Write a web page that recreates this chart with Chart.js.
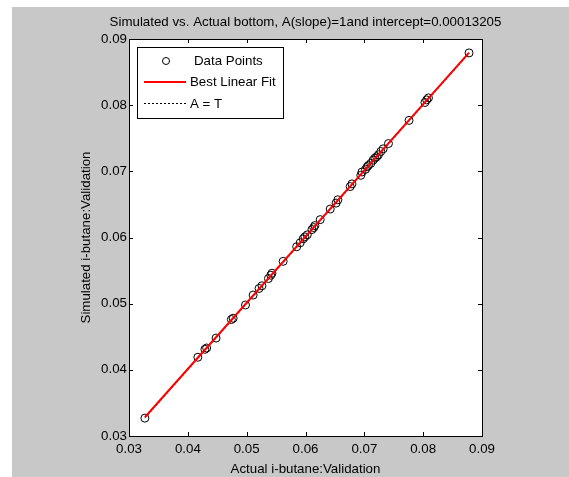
<!DOCTYPE html>
<html>
<head>
<meta charset="utf-8">
<script src="https://cdn.jsdelivr.net/npm/chart.js@4.4.1/dist/chart.umd.min.js"></script>
<style>
html,body{margin:0;padding:0;background:#fff;}
canvas{display:block;}
</style>
</head>
<body>
<canvas id="c" width="569" height="477"></canvas>
<script>
// ---- data ----
const actual = [0.0327,0.0417,0.0429,0.0432,0.0448,0.0474,0.0477,0.0498,0.0511,0.0521,0.0526,0.0537,0.0541,0.0543,0.0562,0.0585,0.0591,0.0596,0.0599,0.0603,0.0611,0.0614,0.0616,0.0625,0.0642,0.0652,0.0655,0.0676,0.0679,0.0694,0.0696,0.0702,0.0705,0.0707,0.0711,0.0715,0.0718,0.0721,0.0724,0.0728,0.0732,0.0741,0.0776,0.0803,0.0806,0.0809,0.0878];
const simulated = [0.0327,0.0419,0.0431,0.0433,0.0448,0.0476,0.0478,0.0498,0.0513,0.0523,0.0527,0.0538,0.0543,0.0546,0.0564,0.0586,0.0592,0.0598,0.0601,0.0604,0.0612,0.0615,0.0618,0.0627,0.0643,0.0652,0.0657,0.0677,0.0681,0.0694,0.0699,0.0703,0.0707,0.0709,0.0712,0.0717,0.0720,0.0722,0.0725,0.0730,0.0734,0.0742,0.0777,0.0804,0.0808,0.0811,0.0879];
const fitX = [0.0327, 0.0878];
const fitY = [0.03283, 0.08793];
const idealX = [0.0327, 0.0878];
const idealY = [0.0327, 0.0878];
const tickValues = [0.03,0.04,0.05,0.06,0.07,0.08,0.09];
const tickLabels = ['0.03','0.04','0.05','0.06','0.07','0.08','0.09'];
const titleText = 'Simulated vs. Actual bottom, A(slope)=1and intercept=0.00013205';
const xTitle = 'Actual i-butane:Validation';
const yTitle = 'Simulated i-butane:Validation';
const legendLabels = ['Data Points','Best Linear Fit','A = T'];

const FONT = "'Liberation Sans', Arial, sans-serif";
const FS = 13.3;

function lbl(v){
  for (let i=0;i<tickValues.length;i++) if (Math.abs(v-tickValues[i])<1e-9) return tickLabels[i];
  return '';
}

const decor = {
  id:'decor',
  beforeDraw(chart){
    const ctx = chart.ctx, a = chart.chartArea;
    ctx.save();
    ctx.fillStyle = '#ffffff';
    ctx.fillRect(0,0,chart.width,chart.height);
    ctx.fillStyle = '#c8c8c8';
    ctx.fillRect(12,7,chart.width-12,chart.height-7);
    ctx.fillStyle = '#ffffff';
    ctx.fillRect(a.left,a.top,a.right-a.left,a.bottom-a.top);
    ctx.restore();
  },
  afterDraw(chart){
    const ctx = chart.ctx, a = chart.chartArea;
    const xs = chart.scales.x, ys = chart.scales.y;
    ctx.save();
    // frame
    ctx.strokeStyle = '#000';
    ctx.lineWidth = 1;
    ctx.strokeRect(Math.round(a.left)+0.5, Math.round(a.top)+0.5, Math.round(a.right-a.left), Math.round(a.bottom-a.top));
    // inward ticks
    const TL = 4;
    ctx.beginPath();
    tickValues.forEach(v=>{
      const px = Math.round(xs.getPixelForValue(v))+0.5;
      ctx.moveTo(px, a.bottom); ctx.lineTo(px, a.bottom-TL);
      ctx.moveTo(px, a.top); ctx.lineTo(px, a.top+TL);
      const py = Math.round(ys.getPixelForValue(v))+0.5;
      ctx.moveTo(a.left, py); ctx.lineTo(a.left+TL, py);
      ctx.moveTo(a.right, py); ctx.lineTo(a.right-TL, py);
    });
    ctx.stroke();
    // title
    ctx.fillStyle = '#000';
    ctx.font = FS + 'px ' + FONT;
    ctx.textAlign = 'center';
    ctx.textBaseline = 'middle';
    const cx = (a.left+a.right)/2;
    ctx.fillText(titleText, cx, 22);
    ctx.fillText(xTitle, cx, 469);
    ctx.save();
    ctx.translate(86, (a.top+a.bottom)/2);
    ctx.rotate(-Math.PI/2);
    ctx.fillText(yTitle, 0, 0);
    ctx.restore();
    // legend
    const L = 137, T = 47, R = 283, B = 118;
    ctx.fillStyle = '#fff';
    ctx.fillRect(L,T,R-L,B-T);
    ctx.strokeStyle = '#000';
    ctx.lineWidth = 1;
    ctx.strokeRect(L+0.5,T+0.5,R-L,B-T);
    ctx.fillStyle = '#000';
    ctx.textAlign = 'left';
    ctx.textBaseline = 'middle';
    // row 1
    ctx.beginPath();
    ctx.arc(166, 61, 3.5, 0, Math.PI*2);
    ctx.strokeStyle = '#000';
    ctx.stroke();
    ctx.fillText(legendLabels[0], 194, 61);
    // row 2
    ctx.beginPath();
    ctx.strokeStyle = '#ff0000';
    ctx.lineWidth = 2;
    ctx.moveTo(144, 82); ctx.lineTo(186, 82);
    ctx.stroke();
    ctx.fillText(legendLabels[1], 190, 82);
    // row 3
    ctx.beginPath();
    ctx.strokeStyle = '#000';
    ctx.lineWidth = 1;
    ctx.setLineDash([2,2]);
    ctx.moveTo(144, 103.5); ctx.lineTo(186, 103.5);
    ctx.stroke();
    ctx.setLineDash([]);
    ctx.fillText(legendLabels[2], 190, 104);
    ctx.restore();
  }
};

const pts = actual.map((v,i)=>({x:v, y:simulated[i]}));
const fitPts = fitX.map((v,i)=>({x:v, y:fitY[i]}));
const idealPts = idealX.map((v,i)=>({x:v, y:idealY[i]}));

new Chart(document.getElementById('c'), {
  type:'scatter',
  data:{
    datasets:[
      {label:legendLabels[0], data:pts, showLine:false, pointStyle:'circle', pointRadius:4, pointBorderWidth:1, pointBorderColor:'#000', pointBackgroundColor:'rgba(0,0,0,0)', order:3},
      {label:legendLabels[2], data:idealPts, showLine:true, borderColor:'#000', borderWidth:1, borderDash:[2,2], pointRadius:0, fill:false, order:2},
      {label:legendLabels[1], data:fitPts, showLine:true, borderColor:'#ff0000', borderWidth:2, pointRadius:0, fill:false, order:1}
    ]
  },
  options:{
    responsive:false,
    animation:false,
    devicePixelRatio:1,
    layout:{padding:{left:0, top:39, right:87, bottom:0}},
    plugins:{legend:{display:false}, title:{display:false}, tooltip:{enabled:false}},
    scales:{
      x:{
        type:'linear', min:0.03, max:0.09,
        afterBuildTicks(s){ s.ticks = tickValues.map(v=>({value:v})); },
        afterFit(s){ s.height = 41; },
        grid:{display:false, drawTicks:false},
        border:{display:false},
        ticks:{padding:5, color:'#000', font:{family:FONT, size:FS}, callback:(v)=>lbl(v), maxRotation:0, autoSkip:false}
      },
      y:{
        type:'linear', min:0.03, max:0.09,
        afterBuildTicks(s){ s.ticks = tickValues.map(v=>({value:v})); },
        afterFit(s){ s.width = 129; },
        grid:{display:false, drawTicks:false},
        border:{display:false},
        ticks:{padding:2, color:'#000', font:{family:FONT, size:FS}, callback:(v)=>lbl(v), autoSkip:false}
      }
    }
  },
  plugins:[decor]
});
</script>
</body>
</html>
